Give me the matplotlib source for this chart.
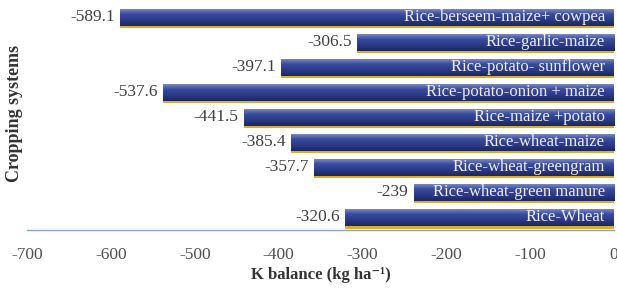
import numpy as np
import matplotlib.pyplot as plt
import matplotlib
from matplotlib.colors import LinearSegmentedColormap

matplotlib.rcParams['font.family'] = ['Liberation Serif', 'DejaVu Serif']

# data (top to bottom as in the figure)
systems = ['Rice-berseem-maize+ cowpea', 'Rice-garlic-maize', 'Rice-potato- sunflower',
           'Rice-potato-onion + maize', 'Rice-maize +potato', 'Rice-wheat-maize',
           'Rice-wheat-greengram', 'Rice-wheat-green manure', 'Rice-Wheat']
k_balance = [-589.1, -306.5, -397.1, -537.6, -441.5, -385.4, -357.7, -239, -320.6]
value_labels = ['-589.1', '-306.5', '-397.1', '-537.6', '-441.5', '-385.4', '-357.7', '-239', '-320.6']
xticks = [-700, -600, -500, -400, -300, -200, -100, 0]

fig = plt.figure(figsize=(6.17, 2.92), dpi=100)
ax = fig.add_axes([0.0438, 0.2123, 0.9513, 0.7723])

y = np.arange(len(systems))
h = 0.68

# gold shadow under each bar
ax.barh(y + 0.1, k_balance, height=h, color='#D9AE2A', zorder=1)
bars = ax.barh(y, k_balance, height=h, color='#2B3A88', zorder=2)

ax.set_xlim(-700, 0)
ax.set_ylim(len(systems) - 0.5, -0.5)

# vertical gradient on each bar
cmap = LinearSegmentedColormap.from_list('bar', ['#8593C8', '#3A4C9E', '#2B3A88', '#1C275E'])
grad = np.linspace(0, 1, 64).reshape(-1, 1)
for b in bars:
    x0, y0 = b.get_x(), b.get_y()
    w, hh = b.get_width(), b.get_height()
    im = ax.imshow(grad, cmap=cmap, aspect='auto', zorder=3,
                   extent=[x0, x0 + w, y0 + hh, y0])
    im.set_clip_path(b)

for yi, v, lab, name in zip(y, k_balance, value_labels, systems):
    ax.text(v - 6, yi, lab, ha='right', va='center', fontsize=12.5, color='#404040', zorder=4)
    ax.text(-11, yi, name, ha='right', va='center', fontsize=12, color='#EEEEF5', zorder=4)

ax.set_xticks(xticks)
ax.set_xticklabels([str(t) for t in xticks], fontsize=12.5, color='#505050')
ax.set_yticks([])
ax.tick_params(axis='x', length=0, pad=12)
for s in ['top', 'right', 'left']:
    ax.spines[s].set_visible(False)
ax.spines['bottom'].set_color('#8FA2C8')
ax.spines['bottom'].set_linewidth(1.0)

ax.set_xlabel('K balance (kg ha⁻¹)', fontsize=12, fontweight='bold', color='#333333', labelpad=3)
fig.text(0.024, 0.61, 'Cropping systems', rotation=90, ha='center', va='center',
         fontsize=13, fontweight='bold', color='#333333')

fig.savefig('out.png', dpi=100)
